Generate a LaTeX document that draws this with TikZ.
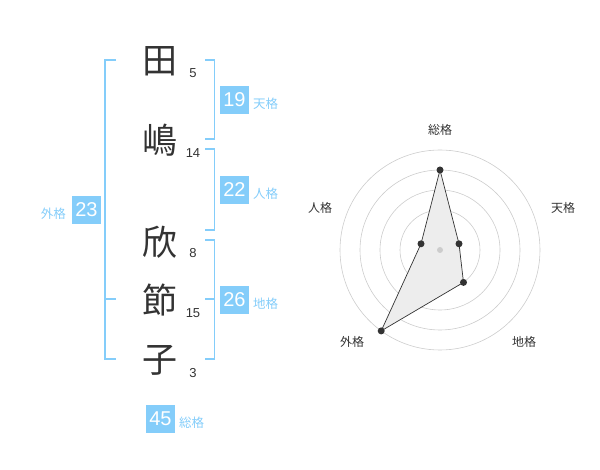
\documentclass[tikz,border=0pt]{standalone}
\usepackage{fontspec}
\setmainfont{Liberation Sans}
\newfontfamily\jp{Noto Sans CJK JP}
\definecolor{kblue}{HTML}{84CDFA}
\definecolor{ktext}{HTML}{333333}
\definecolor{kgrid}{HTML}{CCCCCC}
\begin{document}
\begin{tikzpicture}[x=1pt,y=-1pt,
  kanji/.style={font=\jp\fontsize{35}{35}\selectfont, text=ktext, inner sep=0pt},
  strokes/.style={font=\fontsize{13}{13}\selectfont, text=ktext, inner sep=0pt},
  numbox/.style={fill=kblue, text=white, minimum width=29pt, minimum height=28pt, inner sep=0pt, font=\fontsize{20}{20}\selectfont},
  kaku/.style={font=\jp\fontsize{12.5}{12.5}\selectfont, text=kblue, inner sep=0pt},
  brk/.style={draw=kblue, line width=1.6pt},
  axis/.style={font=\jp\fontsize{12}{12}\selectfont, text=ktext, inner sep=0pt},
  ring/.style={draw=kgrid, line width=0.6pt},
  dot/.style={circle, fill=ktext, inner sep=0pt, minimum size=7pt}]
\useasboundingbox (0,0) rectangle (600,470);
% kanji
\node[kanji] (k1) at (160,61) {田};
\node[kanji] (k2) at (160,140) {嶋};
\node[kanji] (k3) at (160,242) {欣};
\node[kanji] (k4) at (160,300) {節};
\node[kanji] (k5) at (160,360) {子};
% strokes
\node[strokes] (s1) at (193,73) {5};
\node[strokes] (s2) at (193,153) {14};
\node[strokes] (s3) at (193,253) {8};
\node[strokes] (s4) at (193,313) {15};
\node[strokes] (s5) at (193,373) {3};
% brackets
\draw[brk] (116,60) -- (105,60) -- (105,359) -- (116,359);
\draw[brk] (105,299) -- (116,299);
\draw[brk] (205,60) -- (214.5,60) -- (214.5,139) -- (205,139);
\draw[brk] (205,149) -- (214.5,149) -- (214.5,230) -- (205,230);
\draw[brk] (205,240) -- (214.5,240) -- (214.5,359) -- (205,359);
\draw[brk] (205,299) -- (214.5,299);
% boxes
\node[numbox] (b19) at (234.5,100) {19};
\node[kaku, anchor=west] (t19) at (253,104) {天格};
\node[numbox] (b22) at (234.5,190) {22};
\node[kaku, anchor=west] (t22) at (253,194) {人格};
\node[numbox] (b23) at (86.5,210) {23};
\node[kaku, anchor=east] (t23) at (66,214) {外格};
\node[numbox] (b26) at (234.5,300) {26};
\node[kaku, anchor=west] (t26) at (253,304) {地格};
\node[numbox] (b45) at (160.5,419) {45};
\node[kaku, anchor=west] (t45) at (179,423) {総格};
% radar
\coordinate (C) at (440,250);
\foreach \r in {20,40,60,80,100} \draw[ring] (C) circle (\r);
\coordinate (p1) at (440,170);
\coordinate (p2) at (459.0,243.8);
\coordinate (p3) at (463.5,282.4);
\coordinate (p4) at (381.2,330.9);
\coordinate (p5) at (421.0,243.8);
\fill[black!7] (p1) -- (p2) -- (p3) -- (p4) -- (p5) -- cycle;
\draw[ktext, line width=0.7pt] (p1) -- (p2) -- (p3) -- (p4) -- (p5) -- cycle;
\node[circle, fill=kgrid, inner sep=0pt, minimum size=6pt] (c0) at (C) {};
\foreach \p in {p1,p2,p3,p4,p5} \node[dot] at (\p) {};
\node[axis] (a1) at (440,130) {総格};
\node[axis] (a2) at (563,208) {天格};
\node[axis] (a3) at (320,208) {人格};
\node[axis] (a4) at (352,342) {外格};
\node[axis] (a5) at (524,342) {地格};
\end{tikzpicture}
\end{document}
